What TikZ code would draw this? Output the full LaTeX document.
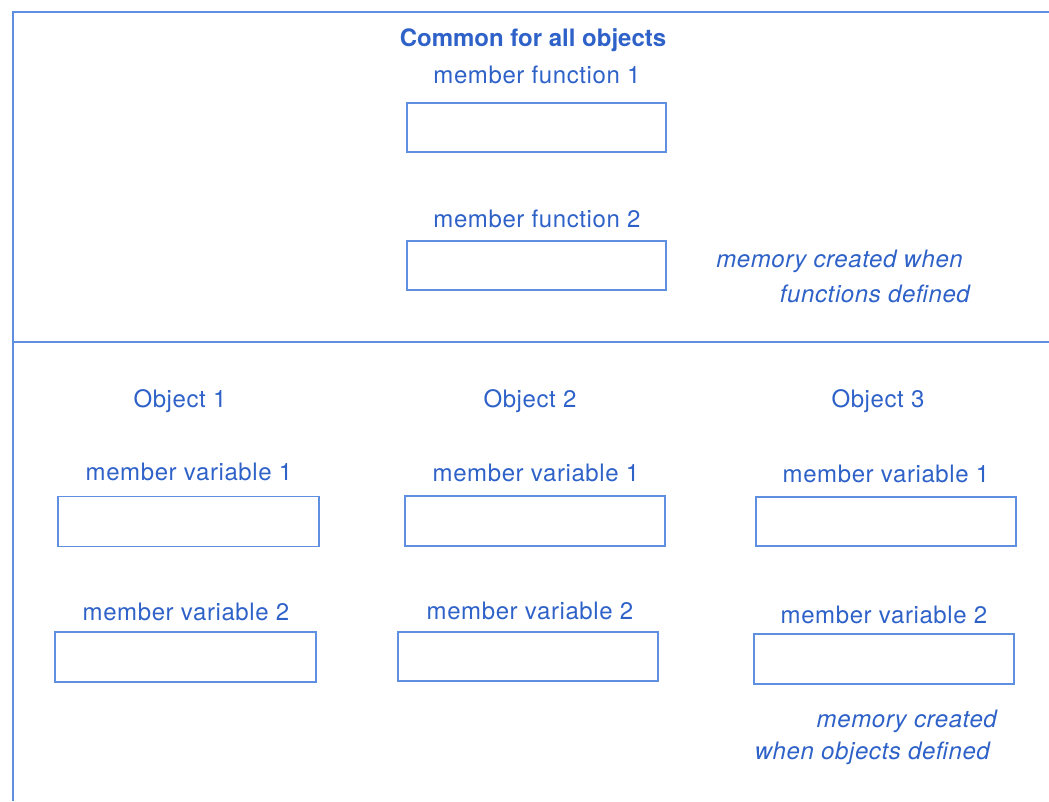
\documentclass[tikz,border=0pt]{standalone}
\usepackage{fontspec}
\setmainfont{TeX Gyre Heros}
\newfontfamily\lblfont[LetterSpace=2.5]{TeX Gyre Heros}
\definecolor{txtblue}{HTML}{2F62C8}
\definecolor{lineblue}{HTML}{5F8FE0}
\begin{document}
\begin{tikzpicture}[x=1pt,y=-1pt,
  lbl/.style={text=txtblue,inner sep=0pt,font=\lblfont\fontsize{24}{28}\selectfont},
  note/.style={text=txtblue,inner sep=0pt,font=\lblfont\fontsize{24}{28}\selectfont\itshape},
  heading/.style={text=txtblue,inner sep=0pt,font=\rmfamily\fontsize{24}{28}\selectfont\bfseries},
  membox/.style={draw=lineblue,line width=1.8pt,minimum width=259pt,minimum height=49pt,inner sep=0pt},
  frameline/.style={draw=lineblue,line width=2pt}]
\useasboundingbox (0,0) rectangle (1049,801);
% frame
\coordinate (tl) at (13,12);
\coordinate (tr) at (1049,12);
\coordinate (bl) at (13,801);
\coordinate (dl) at (13,342);
\coordinate (dr) at (1049,342);
\draw[frameline] (bl) -- (tl) -- (tr);
\draw[frameline] (dl) -- (dr);
% top section
\node[heading] (common) at (533,40) {Common for all objects};
\node[lbl] (mf1l) at (537,75) {member function 1};
\node[membox] (mf1) at (536.5,127.5) {};
\node[lbl] (mf2l) at (537,219) {member function 2};
\node[membox] (mf2) at (536.5,265.5) {};
\node[note,anchor=east] (n1a) at (963,261) {memory created when};
\node[note,anchor=east] (n1b) at (970,294) {functions defined};
% objects
\node[lbl] (o1) at (180,401) {Object 1};
\node[lbl] (o2) at (530,401) {Object 2};
\node[lbl] (o3) at (878,401) {Object 3};
\node[lbl] (v11l) at (189,472) {member variable 1};
\node[lbl] (v21l) at (536,473) {member variable 1};
\node[lbl] (v31l) at (886,474) {member variable 1};
\node[membox,minimum width=261pt,minimum height=50pt] (v11) at (188.5,521.5) {};
\node[membox,minimum width=260pt,minimum height=50pt] (v21) at (535,521) {};
\node[membox,minimum width=260pt,minimum height=49pt] (v31) at (886,521.5) {};
\node[lbl] (v12l) at (186,612) {member variable 2};
\node[lbl] (v22l) at (530,611) {member variable 2};
\node[lbl] (v32l) at (884,615) {member variable 2};
\node[membox,minimum width=261pt,minimum height=50pt] (v12) at (185.5,657) {};
\node[membox,minimum width=260pt,minimum height=49pt] (v22) at (528,656.5) {};
\node[membox,minimum width=260pt,minimum height=50pt] (v32) at (884,659) {};
\node[note,anchor=east] (n2a) at (997,721) {memory created};
\node[note,anchor=east] (n2b) at (990,753) {when objects defined};
\end{tikzpicture}
\end{document}
